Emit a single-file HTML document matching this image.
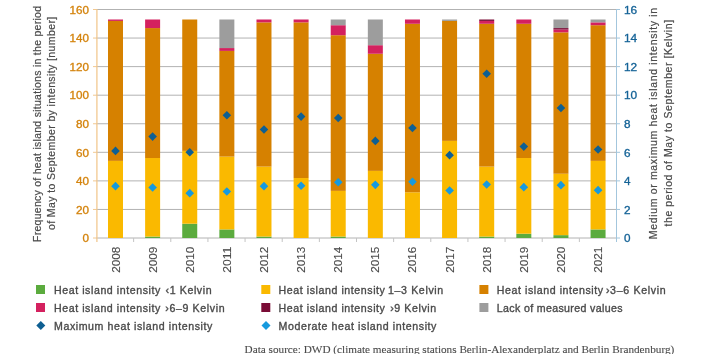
<!DOCTYPE html><html><head><meta charset="utf-8"><style>html,body{margin:0;padding:0;background:#fff;overflow:hidden}svg{display:block;will-change:transform}</style></head><body>
<svg width="707" height="354" viewBox="0 0 707 354" style="font-family:'Liberation Sans',sans-serif">
<rect width="707" height="354" fill="#fff"/>
<line x1="96" y1="238.00" x2="616" y2="238.00" stroke="#b2b2b2" stroke-width="1"/>
<line x1="96" y1="209.44" x2="616" y2="209.44" stroke="#b2b2b2" stroke-width="1"/>
<line x1="96" y1="180.88" x2="616" y2="180.88" stroke="#b2b2b2" stroke-width="1"/>
<line x1="96" y1="152.31" x2="616" y2="152.31" stroke="#b2b2b2" stroke-width="1"/>
<line x1="96" y1="123.75" x2="616" y2="123.75" stroke="#b2b2b2" stroke-width="1"/>
<line x1="96" y1="95.19" x2="616" y2="95.19" stroke="#b2b2b2" stroke-width="1"/>
<line x1="96" y1="66.62" x2="616" y2="66.62" stroke="#b2b2b2" stroke-width="1"/>
<line x1="96" y1="38.06" x2="616" y2="38.06" stroke="#b2b2b2" stroke-width="1"/>
<line x1="96" y1="9.50" x2="616" y2="9.50" stroke="#b2b2b2" stroke-width="1"/>
<line x1="133.64" y1="238.0" x2="133.64" y2="242" stroke="#c4c4c4" stroke-width="1"/>
<line x1="170.79" y1="238.0" x2="170.79" y2="242" stroke="#c4c4c4" stroke-width="1"/>
<line x1="207.93" y1="238.0" x2="207.93" y2="242" stroke="#c4c4c4" stroke-width="1"/>
<line x1="245.07" y1="238.0" x2="245.07" y2="242" stroke="#c4c4c4" stroke-width="1"/>
<line x1="282.21" y1="238.0" x2="282.21" y2="242" stroke="#c4c4c4" stroke-width="1"/>
<line x1="319.36" y1="238.0" x2="319.36" y2="242" stroke="#c4c4c4" stroke-width="1"/>
<line x1="356.50" y1="238.0" x2="356.50" y2="242" stroke="#c4c4c4" stroke-width="1"/>
<line x1="393.64" y1="238.0" x2="393.64" y2="242" stroke="#c4c4c4" stroke-width="1"/>
<line x1="430.79" y1="238.0" x2="430.79" y2="242" stroke="#c4c4c4" stroke-width="1"/>
<line x1="467.93" y1="238.0" x2="467.93" y2="242" stroke="#c4c4c4" stroke-width="1"/>
<line x1="505.07" y1="238.0" x2="505.07" y2="242" stroke="#c4c4c4" stroke-width="1"/>
<line x1="542.21" y1="238.0" x2="542.21" y2="242" stroke="#c4c4c4" stroke-width="1"/>
<line x1="579.36" y1="238.0" x2="579.36" y2="242" stroke="#c4c4c4" stroke-width="1"/>
<rect x="108.00" y="160.88" width="15.0" height="77.12" fill="#fab900"/>
<rect x="108.00" y="20.92" width="15.0" height="139.96" fill="#d68100"/>
<rect x="108.00" y="19.50" width="15.0" height="1.43" fill="#d4215f"/>
<rect x="145.12" y="236.57" width="15.0" height="1.43" fill="#5bab3e"/>
<rect x="145.12" y="158.02" width="15.0" height="78.55" fill="#fab900"/>
<rect x="145.12" y="28.07" width="15.0" height="129.96" fill="#d68100"/>
<rect x="145.12" y="19.50" width="15.0" height="8.57" fill="#d4215f"/>
<rect x="182.24" y="223.72" width="15.0" height="14.28" fill="#5bab3e"/>
<rect x="182.24" y="150.88" width="15.0" height="72.83" fill="#fab900"/>
<rect x="182.24" y="19.50" width="15.0" height="131.39" fill="#d68100"/>
<rect x="219.36" y="229.43" width="15.0" height="8.57" fill="#5bab3e"/>
<rect x="219.36" y="156.60" width="15.0" height="72.83" fill="#fab900"/>
<rect x="219.36" y="50.92" width="15.0" height="105.68" fill="#d68100"/>
<rect x="219.36" y="48.06" width="15.0" height="2.86" fill="#d4215f"/>
<rect x="219.36" y="19.50" width="15.0" height="28.56" fill="#9d9d9d"/>
<rect x="256.48" y="236.57" width="15.0" height="1.43" fill="#5bab3e"/>
<rect x="256.48" y="166.59" width="15.0" height="69.98" fill="#fab900"/>
<rect x="256.48" y="22.35" width="15.0" height="144.24" fill="#d68100"/>
<rect x="256.48" y="19.50" width="15.0" height="2.86" fill="#d4215f"/>
<rect x="293.60" y="178.02" width="15.0" height="59.98" fill="#fab900"/>
<rect x="293.60" y="22.35" width="15.0" height="155.67" fill="#d68100"/>
<rect x="293.60" y="19.50" width="15.0" height="2.86" fill="#d4215f"/>
<rect x="330.72" y="236.57" width="15.0" height="1.43" fill="#5bab3e"/>
<rect x="330.72" y="190.87" width="15.0" height="45.70" fill="#fab900"/>
<rect x="330.72" y="35.21" width="15.0" height="155.67" fill="#d68100"/>
<rect x="330.72" y="25.21" width="15.0" height="10.00" fill="#d4215f"/>
<rect x="330.72" y="19.50" width="15.0" height="5.71" fill="#9d9d9d"/>
<rect x="367.84" y="170.88" width="15.0" height="67.12" fill="#fab900"/>
<rect x="367.84" y="53.77" width="15.0" height="117.11" fill="#d68100"/>
<rect x="367.84" y="45.20" width="15.0" height="8.57" fill="#d4215f"/>
<rect x="367.84" y="19.50" width="15.0" height="25.71" fill="#9d9d9d"/>
<rect x="404.96" y="192.30" width="15.0" height="45.70" fill="#fab900"/>
<rect x="404.96" y="23.78" width="15.0" height="168.52" fill="#d68100"/>
<rect x="404.96" y="19.50" width="15.0" height="4.28" fill="#d4215f"/>
<rect x="442.08" y="140.89" width="15.0" height="97.11" fill="#fab900"/>
<rect x="442.08" y="20.92" width="15.0" height="119.96" fill="#d68100"/>
<rect x="442.08" y="19.50" width="15.0" height="1.43" fill="#9d9d9d"/>
<rect x="479.20" y="236.57" width="15.0" height="1.43" fill="#5bab3e"/>
<rect x="479.20" y="166.59" width="15.0" height="69.98" fill="#fab900"/>
<rect x="479.20" y="23.78" width="15.0" height="142.81" fill="#d68100"/>
<rect x="479.20" y="20.92" width="15.0" height="2.86" fill="#d4215f"/>
<rect x="479.20" y="19.50" width="15.0" height="1.43" fill="#7a0c36"/>
<rect x="516.32" y="233.72" width="15.0" height="4.28" fill="#5bab3e"/>
<rect x="516.32" y="158.02" width="15.0" height="75.69" fill="#fab900"/>
<rect x="516.32" y="23.78" width="15.0" height="134.24" fill="#d68100"/>
<rect x="516.32" y="19.50" width="15.0" height="4.28" fill="#d4215f"/>
<rect x="553.44" y="235.14" width="15.0" height="2.86" fill="#5bab3e"/>
<rect x="553.44" y="173.73" width="15.0" height="61.41" fill="#fab900"/>
<rect x="553.44" y="32.35" width="15.0" height="141.38" fill="#d68100"/>
<rect x="553.44" y="29.49" width="15.0" height="2.86" fill="#d4215f"/>
<rect x="553.44" y="28.07" width="15.0" height="1.43" fill="#7a0c36"/>
<rect x="553.44" y="19.50" width="15.0" height="8.57" fill="#9d9d9d"/>
<rect x="590.56" y="229.43" width="15.0" height="8.57" fill="#5bab3e"/>
<rect x="590.56" y="160.88" width="15.0" height="68.55" fill="#fab900"/>
<rect x="590.56" y="25.21" width="15.0" height="135.67" fill="#d68100"/>
<rect x="590.56" y="22.35" width="15.0" height="2.86" fill="#d4215f"/>
<rect x="590.56" y="19.50" width="15.0" height="2.86" fill="#9d9d9d"/>
<path d="M115.50 146.58L119.80 150.88L115.50 155.18L111.20 150.88Z" fill="#0e5f92"/>
<path d="M115.50 181.86L119.80 186.16L115.50 190.46L111.20 186.16Z" fill="#169ade"/>
<path d="M152.62 132.30L156.92 136.60L152.62 140.90L148.32 136.60Z" fill="#0e5f92"/>
<path d="M152.62 183.14L156.92 187.44L152.62 191.74L148.32 187.44Z" fill="#169ade"/>
<path d="M189.74 148.01L194.04 152.31L189.74 156.61L185.44 152.31Z" fill="#0e5f92"/>
<path d="M189.74 188.86L194.04 193.16L189.74 197.46L185.44 193.16Z" fill="#169ade"/>
<path d="M226.86 110.88L231.16 115.18L226.86 119.48L222.56 115.18Z" fill="#0e5f92"/>
<path d="M226.86 187.14L231.16 191.44L226.86 195.74L222.56 191.44Z" fill="#169ade"/>
<path d="M263.98 125.16L268.28 129.46L263.98 133.76L259.68 129.46Z" fill="#0e5f92"/>
<path d="M263.98 181.86L268.28 186.16L263.98 190.46L259.68 186.16Z" fill="#169ade"/>
<path d="M301.10 112.31L305.40 116.61L301.10 120.91L296.80 116.61Z" fill="#0e5f92"/>
<path d="M301.10 181.43L305.40 185.73L301.10 190.03L296.80 185.73Z" fill="#169ade"/>
<path d="M338.22 113.74L342.52 118.04L338.22 122.34L333.92 118.04Z" fill="#0e5f92"/>
<path d="M338.22 178.00L342.52 182.30L338.22 186.60L333.92 182.30Z" fill="#169ade"/>
<path d="M375.34 136.59L379.64 140.89L375.34 145.19L371.04 140.89Z" fill="#0e5f92"/>
<path d="M375.34 180.57L379.64 184.87L375.34 189.17L371.04 184.87Z" fill="#169ade"/>
<path d="M412.46 123.73L416.76 128.03L412.46 132.33L408.16 128.03Z" fill="#0e5f92"/>
<path d="M412.46 177.43L416.76 181.73L412.46 186.03L408.16 181.73Z" fill="#169ade"/>
<path d="M449.58 150.87L453.88 155.17L449.58 159.47L445.28 155.17Z" fill="#0e5f92"/>
<path d="M449.58 186.14L453.88 190.44L449.58 194.74L445.28 190.44Z" fill="#169ade"/>
<path d="M486.70 69.47L491.00 73.77L486.70 78.07L482.40 73.77Z" fill="#0e5f92"/>
<path d="M486.70 180.15L491.00 184.45L486.70 188.75L482.40 184.45Z" fill="#169ade"/>
<path d="M523.82 142.30L528.12 146.60L523.82 150.90L519.52 146.60Z" fill="#0e5f92"/>
<path d="M523.82 182.86L528.12 187.16L523.82 191.46L519.52 187.16Z" fill="#169ade"/>
<path d="M560.94 103.74L565.24 108.04L560.94 112.34L556.64 108.04Z" fill="#0e5f92"/>
<path d="M560.94 180.86L565.24 185.16L560.94 189.46L556.64 185.16Z" fill="#169ade"/>
<path d="M598.06 145.16L602.36 149.46L598.06 153.76L593.76 149.46Z" fill="#0e5f92"/>
<path d="M598.06 185.86L602.36 190.16L598.06 194.46L593.76 190.16Z" fill="#169ade"/>
<line x1="96.9" y1="9" x2="96.9" y2="242" stroke="#f2c890" stroke-width="1.3"/>
<line x1="93" y1="238.00" x2="96.5" y2="238.00" stroke="#f2c890" stroke-width="1"/>
<text x="89" y="242.20" text-anchor="end" font-size="10" fill="#d4830c" stroke="#d4830c" stroke-width="0.3" textLength="6.5" lengthAdjust="spacingAndGlyphs">0</text>
<line x1="93" y1="209.44" x2="96.5" y2="209.44" stroke="#f2c890" stroke-width="1"/>
<text x="89" y="213.64" text-anchor="end" font-size="10" fill="#d4830c" stroke="#d4830c" stroke-width="0.3" textLength="13.0" lengthAdjust="spacingAndGlyphs">20</text>
<line x1="93" y1="180.88" x2="96.5" y2="180.88" stroke="#f2c890" stroke-width="1"/>
<text x="89" y="185.07" text-anchor="end" font-size="10" fill="#d4830c" stroke="#d4830c" stroke-width="0.3" textLength="13.0" lengthAdjust="spacingAndGlyphs">40</text>
<line x1="93" y1="152.31" x2="96.5" y2="152.31" stroke="#f2c890" stroke-width="1"/>
<text x="89" y="156.51" text-anchor="end" font-size="10" fill="#d4830c" stroke="#d4830c" stroke-width="0.3" textLength="13.0" lengthAdjust="spacingAndGlyphs">60</text>
<line x1="93" y1="123.75" x2="96.5" y2="123.75" stroke="#f2c890" stroke-width="1"/>
<text x="89" y="127.95" text-anchor="end" font-size="10" fill="#d4830c" stroke="#d4830c" stroke-width="0.3" textLength="13.0" lengthAdjust="spacingAndGlyphs">80</text>
<line x1="93" y1="95.19" x2="96.5" y2="95.19" stroke="#f2c890" stroke-width="1"/>
<text x="89" y="99.39" text-anchor="end" font-size="10" fill="#d4830c" stroke="#d4830c" stroke-width="0.3" textLength="19.4" lengthAdjust="spacingAndGlyphs">100</text>
<line x1="93" y1="66.62" x2="96.5" y2="66.62" stroke="#f2c890" stroke-width="1"/>
<text x="89" y="70.83" text-anchor="end" font-size="10" fill="#d4830c" stroke="#d4830c" stroke-width="0.3" textLength="19.4" lengthAdjust="spacingAndGlyphs">120</text>
<line x1="93" y1="38.06" x2="96.5" y2="38.06" stroke="#f2c890" stroke-width="1"/>
<text x="89" y="42.26" text-anchor="end" font-size="10" fill="#d4830c" stroke="#d4830c" stroke-width="0.3" textLength="19.4" lengthAdjust="spacingAndGlyphs">140</text>
<line x1="93" y1="9.50" x2="96.5" y2="9.50" stroke="#f2c890" stroke-width="1"/>
<text x="89" y="13.70" text-anchor="end" font-size="10" fill="#d4830c" stroke="#d4830c" stroke-width="0.3" textLength="19.4" lengthAdjust="spacingAndGlyphs">160</text>
<line x1="616.5" y1="9" x2="616.5" y2="242" stroke="#a3c6dd" stroke-width="1"/>
<line x1="616.5" y1="238.00" x2="620" y2="238.00" stroke="#a3c6dd" stroke-width="1"/>
<text x="624" y="242.20" font-size="10" fill="#156397" stroke="#156397" stroke-width="0.3" textLength="6.5" lengthAdjust="spacingAndGlyphs">0</text>
<line x1="616.5" y1="209.44" x2="620" y2="209.44" stroke="#a3c6dd" stroke-width="1"/>
<text x="624" y="213.64" font-size="10" fill="#156397" stroke="#156397" stroke-width="0.3" textLength="6.5" lengthAdjust="spacingAndGlyphs">2</text>
<line x1="616.5" y1="180.88" x2="620" y2="180.88" stroke="#a3c6dd" stroke-width="1"/>
<text x="624" y="185.07" font-size="10" fill="#156397" stroke="#156397" stroke-width="0.3" textLength="6.5" lengthAdjust="spacingAndGlyphs">4</text>
<line x1="616.5" y1="152.31" x2="620" y2="152.31" stroke="#a3c6dd" stroke-width="1"/>
<text x="624" y="156.51" font-size="10" fill="#156397" stroke="#156397" stroke-width="0.3" textLength="6.5" lengthAdjust="spacingAndGlyphs">6</text>
<line x1="616.5" y1="123.75" x2="620" y2="123.75" stroke="#a3c6dd" stroke-width="1"/>
<text x="624" y="127.95" font-size="10" fill="#156397" stroke="#156397" stroke-width="0.3" textLength="6.5" lengthAdjust="spacingAndGlyphs">8</text>
<line x1="616.5" y1="95.19" x2="620" y2="95.19" stroke="#a3c6dd" stroke-width="1"/>
<text x="624" y="99.39" font-size="10" fill="#156397" stroke="#156397" stroke-width="0.3" textLength="13.2" lengthAdjust="spacingAndGlyphs">10</text>
<line x1="616.5" y1="66.62" x2="620" y2="66.62" stroke="#a3c6dd" stroke-width="1"/>
<text x="624" y="70.83" font-size="10" fill="#156397" stroke="#156397" stroke-width="0.3" textLength="13.2" lengthAdjust="spacingAndGlyphs">12</text>
<line x1="616.5" y1="38.06" x2="620" y2="38.06" stroke="#a3c6dd" stroke-width="1"/>
<text x="624" y="42.26" font-size="10" fill="#156397" stroke="#156397" stroke-width="0.3" textLength="13.2" lengthAdjust="spacingAndGlyphs">14</text>
<line x1="616.5" y1="9.50" x2="620" y2="9.50" stroke="#a3c6dd" stroke-width="1"/>
<text x="624" y="13.70" font-size="10" fill="#156397" stroke="#156397" stroke-width="0.3" textLength="13.2" lengthAdjust="spacingAndGlyphs">16</text>
<text transform="translate(119.50,272.8) rotate(-90)" font-size="11" fill="#4a4a4a" stroke="#4a4a4a" stroke-width="0.12" textLength="26.2" lengthAdjust="spacingAndGlyphs">2008</text>
<text transform="translate(156.62,272.8) rotate(-90)" font-size="11" fill="#4a4a4a" stroke="#4a4a4a" stroke-width="0.12" textLength="26.2" lengthAdjust="spacingAndGlyphs">2009</text>
<text transform="translate(193.74,272.8) rotate(-90)" font-size="11" fill="#4a4a4a" stroke="#4a4a4a" stroke-width="0.12" textLength="26.2" lengthAdjust="spacingAndGlyphs">2010</text>
<text transform="translate(230.86,272.8) rotate(-90)" font-size="11" fill="#4a4a4a" stroke="#4a4a4a" stroke-width="0.12" textLength="26.2" lengthAdjust="spacingAndGlyphs">2011</text>
<text transform="translate(267.98,272.8) rotate(-90)" font-size="11" fill="#4a4a4a" stroke="#4a4a4a" stroke-width="0.12" textLength="26.2" lengthAdjust="spacingAndGlyphs">2012</text>
<text transform="translate(305.10,272.8) rotate(-90)" font-size="11" fill="#4a4a4a" stroke="#4a4a4a" stroke-width="0.12" textLength="26.2" lengthAdjust="spacingAndGlyphs">2013</text>
<text transform="translate(342.22,272.8) rotate(-90)" font-size="11" fill="#4a4a4a" stroke="#4a4a4a" stroke-width="0.12" textLength="26.2" lengthAdjust="spacingAndGlyphs">2014</text>
<text transform="translate(379.34,272.8) rotate(-90)" font-size="11" fill="#4a4a4a" stroke="#4a4a4a" stroke-width="0.12" textLength="26.2" lengthAdjust="spacingAndGlyphs">2015</text>
<text transform="translate(416.46,272.8) rotate(-90)" font-size="11" fill="#4a4a4a" stroke="#4a4a4a" stroke-width="0.12" textLength="26.2" lengthAdjust="spacingAndGlyphs">2016</text>
<text transform="translate(453.58,272.8) rotate(-90)" font-size="11" fill="#4a4a4a" stroke="#4a4a4a" stroke-width="0.12" textLength="26.2" lengthAdjust="spacingAndGlyphs">2017</text>
<text transform="translate(490.70,272.8) rotate(-90)" font-size="11" fill="#4a4a4a" stroke="#4a4a4a" stroke-width="0.12" textLength="26.2" lengthAdjust="spacingAndGlyphs">2018</text>
<text transform="translate(527.82,272.8) rotate(-90)" font-size="11" fill="#4a4a4a" stroke="#4a4a4a" stroke-width="0.12" textLength="26.2" lengthAdjust="spacingAndGlyphs">2019</text>
<text transform="translate(564.94,272.8) rotate(-90)" font-size="11" fill="#4a4a4a" stroke="#4a4a4a" stroke-width="0.12" textLength="26.2" lengthAdjust="spacingAndGlyphs">2020</text>
<text transform="translate(602.06,272.8) rotate(-90)" font-size="11" fill="#4a4a4a" stroke="#4a4a4a" stroke-width="0.12" textLength="26.2" lengthAdjust="spacingAndGlyphs">2021</text>
<text transform="translate(40.90,242.00) rotate(-90)" font-size="10.5" fill="#4a4a4a" stroke="#4a4a4a" stroke-width="0.2" textLength="236.0" lengthAdjust="spacing">Frequency of heat island situations in the period</text>
<text transform="translate(55.30,230.00) rotate(-90)" font-size="10.5" fill="#4a4a4a" stroke="#4a4a4a" stroke-width="0.2" textLength="213.3" lengthAdjust="spacing">of May to September by intensity [number]</text>
<text transform="translate(657.40,239.20) rotate(-90)" font-size="10.5" fill="#4a4a4a" stroke="#4a4a4a" stroke-width="0.2" textLength="231.3" lengthAdjust="spacing">Medium or maximum heat island intensity in</text>
<text transform="translate(671.80,226.50) rotate(-90)" font-size="10.5" fill="#4a4a4a" stroke="#4a4a4a" stroke-width="0.2" textLength="206.6" lengthAdjust="spacing">the period of May to September [Kelvin]</text>
<rect x="36" y="285.0" width="9" height="9" fill="#5bab3e"/>
<text x="54" y="293.80" font-size="10.6" fill="#4a4a4a" stroke="#4a4a4a" stroke-width="0.35" textLength="106.3" lengthAdjust="spacing">Heat island intensity</text>
<text x="165.6" y="293.80" font-size="10.6" fill="#4a4a4a" stroke="#4a4a4a" stroke-width="0.35" textLength="46.0" lengthAdjust="spacing">‹1 Kelvin</text>
<rect x="36" y="303.0" width="9" height="9" fill="#d4215f"/>
<text x="54" y="311.80" font-size="10.6" fill="#4a4a4a" stroke="#4a4a4a" stroke-width="0.35" textLength="106.3" lengthAdjust="spacing">Heat island intensity</text>
<text x="165.3" y="311.80" font-size="10.6" fill="#4a4a4a" stroke="#4a4a4a" stroke-width="0.35" textLength="59.3" lengthAdjust="spacing">›6–9 Kelvin</text>
<path d="M40.8 321.0L45.3 325.5L40.8 330.0L36.3 325.5Z" fill="#0e5f92"/>
<text x="54" y="329.80" font-size="10.6" fill="#4a4a4a" stroke="#4a4a4a" stroke-width="0.35" textLength="158.3" lengthAdjust="spacing">Maximum heat island intensity</text>
<rect x="261.3" y="285.0" width="9" height="9" fill="#fab900"/>
<text x="278.6" y="293.80" font-size="10.6" fill="#4a4a4a" stroke="#4a4a4a" stroke-width="0.35" textLength="106.3" lengthAdjust="spacing">Heat island intensity</text>
<text x="388.0" y="293.80" font-size="10.6" fill="#4a4a4a" stroke="#4a4a4a" stroke-width="0.35" textLength="55.2" lengthAdjust="spacing">1–3 Kelvin</text>
<rect x="261.3" y="303.0" width="9" height="9" fill="#7a0c36"/>
<text x="278.6" y="311.80" font-size="10.6" fill="#4a4a4a" stroke="#4a4a4a" stroke-width="0.35" textLength="106.3" lengthAdjust="spacing">Heat island intensity</text>
<text x="390.2" y="311.80" font-size="10.6" fill="#4a4a4a" stroke="#4a4a4a" stroke-width="0.35" textLength="46.0" lengthAdjust="spacing">›9 Kelvin</text>
<path d="M266 321.0L270.5 325.5L266 330.0L261.5 325.5Z" fill="#169ade"/>
<text x="278.6" y="329.80" font-size="10.6" fill="#4a4a4a" stroke="#4a4a4a" stroke-width="0.35" textLength="157.8" lengthAdjust="spacing">Moderate heat island intensity</text>
<rect x="479.4" y="285.0" width="9" height="9" fill="#d68100"/>
<text x="496.8" y="293.80" font-size="10.6" fill="#4a4a4a" stroke="#4a4a4a" stroke-width="0.35" textLength="106.3" lengthAdjust="spacing">Heat island intensity</text>
<text x="605.9" y="293.80" font-size="10.6" fill="#4a4a4a" stroke="#4a4a4a" stroke-width="0.35" textLength="59.8" lengthAdjust="spacing">›3–6 Kelvin</text>
<rect x="479.4" y="303.0" width="9" height="9" fill="#9d9d9d"/>
<text x="496.8" y="311.80" font-size="10.6" fill="#4a4a4a" stroke="#4a4a4a" stroke-width="0.35" textLength="125.7" lengthAdjust="spacing">Lack of measured values</text>
<text x="244.6" y="352.7" font-family="'Liberation Serif',serif" font-size="11" fill="#4a4a4a" stroke="#4a4a4a" stroke-width="0.1" textLength="429.7" lengthAdjust="spacingAndGlyphs">Data source: DWD (climate measuring stations Berlin-Alexanderplatz and Berlin Brandenburg)</text>
</svg></body></html>
